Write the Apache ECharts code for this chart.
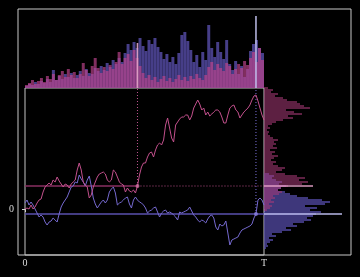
<!DOCTYPE html>
<html><head><meta charset="utf-8">
<script src="https://cdn.jsdelivr.net/npm/echarts@6/dist/echarts.min.js"></script>
<style>html,body{margin:0;padding:0;background:#000}#c{width:360px;height:277px}</style>
</head><body><div id="c"></div>
<script>
// two paths sampled at 120 time steps (0 .. T)
const pinkPath = [0,1,0,4,0,2,6,9,10,17,22,24,26,24,29,27,32,28,25,22,25,24,21,25,27,29,39,46,39,27,24,22,11,14,22,27,32,35,36,37,35,29,27,29,39,37,32,27,25,24,17,21,18,17,19,16,23,34,42,46,46,52,56,57,52,59,64,66,64,69,84,91,81,71,67,84,87,90,92,92,94,94,89,93,101,105,109,105,99,101,94,97,93,95,97,99,99,97,92,86,86,94,101,103,104,99,97,91,94,97,99,101,104,109,113,114,108,101,94,89];
const purplePath = [6,9,4,7,4,0,-4,-8,-6,-8,-13,-16,-13,-12,-9,-11,-13,-5,2,6,9,12,17,22,23,27,26,34,30,27,23,29,33,23,11,5,1,4,7,9,6,9,17,20,22,16,4,6,7,9,11,12,5,1,9,12,9,7,6,4,1,-4,-2,-1,1,2,-3,-8,-4,-2,-1,-4,-3,-4,-6,-8,-11,-3,-4,-3,-2,-1,2,-2,-6,-8,-11,-13,-11,-12,-14,-10,-7,-6,-9,-18,-21,-15,-17,-16,-12,-24,-36,-31,-30,-29,-28,-24,-21,-20,-19,-18,-17,-15,-9,-5,9,11,9,4];
const tauPink = 56;
const tauPurple = 115;

// top histograms (80 time bins)
const topPink = [3,5,8,4,7,10,6,12,9,14,8,13,17,11,19,13,16,10,14,25,18,12,22,30,20,15,21,17,23,19,26,36,24,30,34,27,38,30,22,15,10,13,8,11,6,9,12,7,10,6,9,13,8,11,7,12,9,14,10,8,13,21,26,18,24,20,17,25,22,14,19,24,20,27,23,30,36,26,40,28];
const topPurple = [2,4,3,6,4,7,5,9,6,18,8,12,9,14,11,15,10,13,17,12,19,15,14,20,17,22,18,25,21,28,24,30,26,35,44,38,46,40,50,42,37,48,44,50,41,36,29,34,26,31,24,35,53,56,47,38,26,33,21,36,28,63,40,31,46,36,29,48,24,18,27,14,22,11,19,37,44,48,40,35];
const topPinkMark = 45;
const topPurpleMark = 72;

// right histograms (value bins of size 2)
const binSize = 2;
const rightPinkStart = -2;
const rightPink = [3,6,8,5,10,7,11,9,15,18,14,17,24,38,44,35,41,33,21,12,18,21,14,9,12,7,10,14,8,11,6,13,9,12,10,14,9,6,4,5,3,6,4,8,12,19,29,24,38,30,22,46,40,36,33,23,19,11,14,7,9,4];
const rightPurpleStart = -40;
const rightPurple = [2,4,3,6,9,5,12,8,18,27,22,33,29,40,47,43,49,52,57,46,53,41,61,66,58,44,33,26,21,14,17,22,15,18,12,8,10,5];
const rightPinkMark = 49;
const rightPurpleMark = 78;

const xTickLabels = ['0', 'T'];
const yTickLabels = ['0'];

const T = pinkPath.length - 1;
const levelPink = pinkPath[tauPink];
const levelPurple = purplePath[tauPurple];
const topBinW = T / topPink.length;

const PINK = '#c2508c', PURPLE = '#7569cf';
const FONT = 'Liberation Serif';

function vRect(fill) {
  return function (params, api) {
    const a = api.coord([api.value(0), 0]);
    const b = api.coord([api.value(1), api.value(2)]);
    return {type: 'rect', shape: {x: a[0], y: b[1], width: b[0] - a[0], height: a[1] - b[1]}, style: {fill: fill}};
  };
}
function hRect(fill) {
  return function (params, api) {
    const a = api.coord([0, api.value(0)]);
    const b = api.coord([api.value(2), api.value(1)]);
    return {type: 'rect', shape: {x: a[0], y: b[1], width: b[0] - a[0], height: a[1] - b[1]}, style: {fill: fill}};
  };
}
const topData = arr => arr.map((h, k) => [k * topBinW, (k + 1) * topBinW, h]);
const rightData = (arr, start) => arr.map((w, j) => [start + j * binSize, start + (j + 1) * binSize, w]);

const chart = echarts.init(document.getElementById('c'), null, {renderer: 'canvas'});
const lineSeg = (data, color, width, type, z) => ({
  type: 'line', xAxisIndex: 1, yAxisIndex: 1, data: data, symbol: 'none', silent: true, z: z,
  lineStyle: {color: color, width: width, type: type}
});

chart.setOption({
  backgroundColor: '#000',
  animation: false,
  grid: [
    {left: 18, right: 9, top: 9, bottom: 22, show: true, borderColor: '#c8c8c8', borderWidth: 1, backgroundColor: 'transparent'},
    {left: 25, right: 96, top: 88, bottom: 22, show: true, borderColor: '#c4c4c4', borderWidth: 1, backgroundColor: 'transparent'},
    {left: 25, right: 96, top: 9, bottom: 189},
    {left: 264, right: 9, top: 88, bottom: 22}
  ],
  xAxis: [
    {gridIndex: 0, type: 'value', min: 0, max: 1, show: false},
    {gridIndex: 1, type: 'value', min: 0, max: T, interval: T,
      axisLine: {show: false}, splitLine: {show: false},
      axisTick: {show: true, length: 3, lineStyle: {color: '#cfcfcf'}},
      axisLabel: {show: true, margin: 3, color: '#dddddd', fontFamily: FONT, fontSize: 10,
        formatter: v => (v === 0 ? xTickLabels[0] : xTickLabels[1])}},
    {gridIndex: 2, type: 'value', min: 0, max: T, show: false},
    {gridIndex: 3, type: 'value', min: 0, max: 87, show: false}
  ],
  yAxis: [
    {gridIndex: 0, type: 'value', min: 0, max: 1, show: false},
    {gridIndex: 1, type: 'value', min: -46, max: 121, offset: 7,
      axisLine: {show: false}, splitLine: {show: false},
      axisTick: {show: true, length: 3, customValues: [0], lineStyle: {color: '#cfcfcf'}},
      axisLabel: {show: true, margin: 4, customValues: [0], color: '#dddddd', fontFamily: FONT, fontSize: 10,
        formatter: () => yTickLabels[0]}},
    {gridIndex: 2, type: 'value', min: 0, max: 79, show: false},
    {gridIndex: 3, type: 'value', min: -46, max: 121, show: false}
  ],
  series: [
    // top histograms
    {type: 'custom', xAxisIndex: 2, yAxisIndex: 2, data: topData(topPurple), renderItem: vRect('rgba(88,78,170,0.8)'), silent: true, z: 1},
    {type: 'custom', xAxisIndex: 2, yAxisIndex: 2, data: topData(topPink), renderItem: vRect('rgba(188,68,140,0.68)'), silent: true, z: 2},
    {type: 'custom', xAxisIndex: 2, yAxisIndex: 2, data: [[tauPink - 0.4, tauPink + 0.4, topPinkMark]], renderItem: vRect('rgba(225,165,200,0.9)'), silent: true, z: 3},
    {type: 'custom', xAxisIndex: 2, yAxisIndex: 2, data: [[tauPurple - 0.4, tauPurple + 0.4, topPurpleMark]], renderItem: vRect('rgba(195,195,240,0.9)'), silent: true, z: 3},
    // right histograms
    {type: 'custom', xAxisIndex: 3, yAxisIndex: 3, data: rightData(rightPurple, rightPurpleStart), renderItem: hRect('rgba(88,78,175,0.7)'), silent: true, z: 1},
    {type: 'custom', xAxisIndex: 3, yAxisIndex: 3, data: rightData(rightPink, rightPinkStart), renderItem: hRect('rgba(170,58,120,0.55)'), silent: true, z: 2},
    {type: 'custom', xAxisIndex: 3, yAxisIndex: 3, data: [[levelPink - 0.8, levelPink + 0.8, rightPinkMark]], renderItem: hRect('rgba(228,160,200,0.95)'), silent: true, z: 3},
    {type: 'custom', xAxisIndex: 3, yAxisIndex: 3, data: [[levelPurple - 0.8, levelPurple + 0.8, rightPurpleMark]], renderItem: hRect('rgba(195,195,245,0.95)'), silent: true, z: 3},
    // level lines
    lineSeg([[0, levelPink], [tauPink, levelPink]], '#8a2f62', 1.5, 'solid', 1),
    lineSeg([[tauPink, levelPink], [T, levelPink]], '#b84d88', 1, [1, 2], 1),
    lineSeg([[tauPink, levelPink], [tauPink, 121]], '#c0558f', 1, [1, 2], 1),
    lineSeg([[0, levelPurple], [T, levelPurple]], '#5a50ae', 1.5, 'solid', 1),
    lineSeg([[tauPurple, levelPurple], [tauPurple, 121]], '#7a70d8', 1, [1, 2], 1),
    // paths
    {type: 'line', xAxisIndex: 1, yAxisIndex: 1, data: purplePath.map((v, i) => [i, v]), symbol: 'none', silent: true, z: 2,
      lineStyle: {color: PURPLE, width: 1}},
    {type: 'line', xAxisIndex: 1, yAxisIndex: 1, data: pinkPath.map((v, i) => [i, v]), symbol: 'none', silent: true, z: 3,
      lineStyle: {color: PINK, width: 1}},
    {type: 'scatter', xAxisIndex: 1, yAxisIndex: 1, data: [[tauPink, levelPink]], symbolSize: 4, itemStyle: {color: '#d070a0'}, silent: true, z: 4},
    {type: 'scatter', xAxisIndex: 1, yAxisIndex: 1, data: [[tauPurple, levelPurple]], symbolSize: 4, itemStyle: {color: '#8a80e0'}, silent: true, z: 4}
  ]
});
</script>
</body></html>
